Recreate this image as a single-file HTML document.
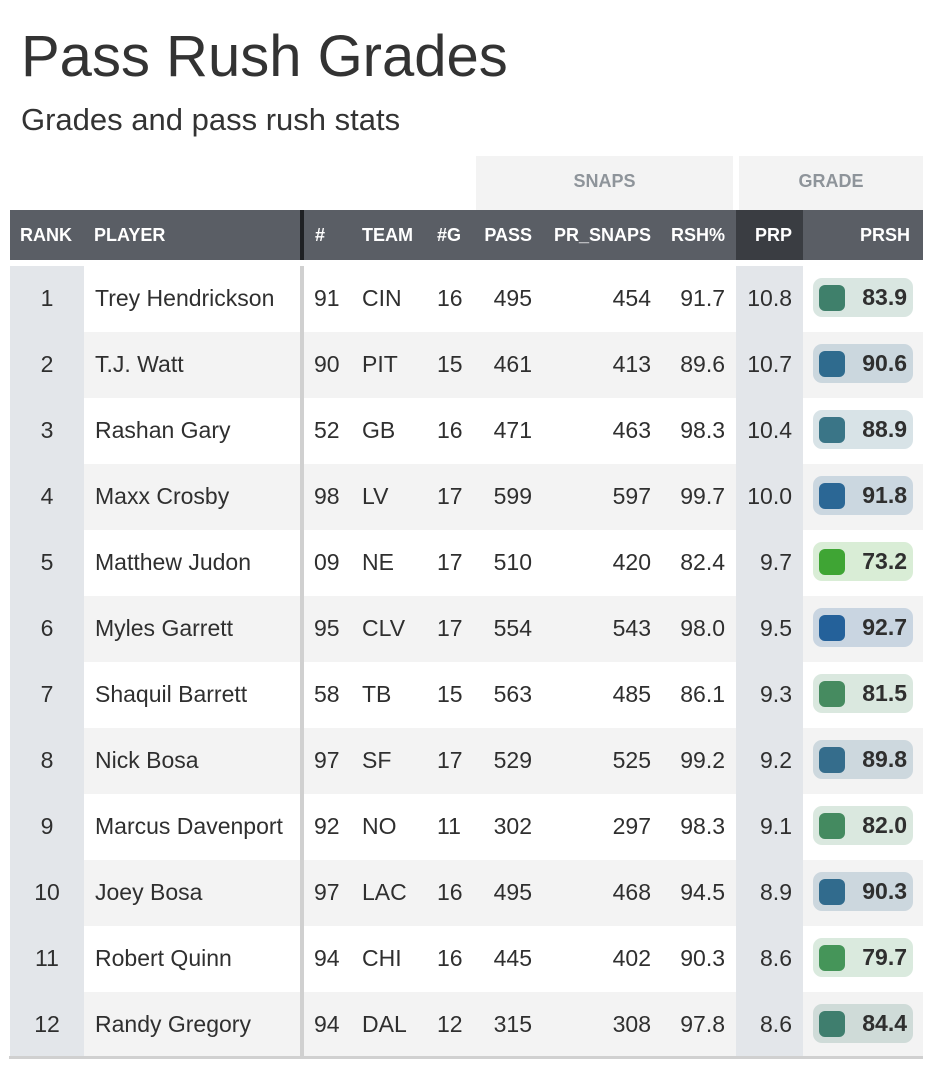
<!DOCTYPE html>
<html><head><meta charset="utf-8">
<style>
*{margin:0;padding:0;box-sizing:border-box}
body{width:932px;height:1068px;background:#fff;position:relative;overflow:hidden;font-family:"Liberation Sans",Arial,sans-serif;color:#2f2f2f}
.t{position:absolute;left:21px;top:28px;font-size:58px;line-height:58px;color:#333;white-space:nowrap}
.st{position:absolute;left:21px;top:104px;font-size:31px;line-height:31px;color:#333;white-space:nowrap}
.gb{position:absolute;top:156px;height:54px;background:#f3f3f3;color:#8e949a;font-weight:bold;font-size:18px;line-height:50px;text-align:center}
.hb{position:absolute;left:10px;top:210px;width:913px;height:50px;background:#5a5e65;color:#fff;font-weight:bold;font-size:18px;line-height:50px}
.hb div{position:absolute;top:0;white-space:nowrap}
.r{position:absolute;left:10px;width:913px;height:66px;background:#fff;font-size:23px;line-height:64px}
.r.g{background:#f3f3f3}
.r div{position:absolute;top:0;height:66px;white-space:nowrap}
.rk{left:0;width:74px;background:#e3e6ea;text-align:center}
.pl{left:85px}
.dv{left:290px;width:4px;background:#d0d0d0}
.c1{left:304px}.c2{left:352px}.c3{left:427px}
.c4{right:391px;text-align:right}
.c5{right:272px;text-align:right}
.c6{right:198px;text-align:right}
.pr{left:726px;width:67px;background:#e3e6ea;text-align:right;padding-right:11px}
.r .p{left:803px;top:12px;width:100px;height:39px;border-radius:9px}
.p i{position:absolute;left:6px;top:7px;width:26px;height:26px;border-radius:6px}
.p b{position:absolute;right:6px;top:0;line-height:39px;font-size:23px;color:#2f2f2f}
.bl{position:absolute;left:9px;top:1056px;width:914px;height:3px;background:#d0d0d0}
</style></head><body>
<div class="t">Pass Rush Grades</div>
<div class="st">Grades and pass rush stats</div>
<div class="gb" style="left:476px;width:257px">SNAPS</div>
<div class="gb" style="left:739px;width:184px">GRADE</div>
<div class="hb">
 <div style="left:10px">RANK</div>
 <div style="left:84px">PLAYER</div>
 <div style="left:290px;width:4px;height:50px;background:#1f2124"></div>
 <div style="left:305px">#</div>
 <div style="left:352px">TEAM</div>
 <div style="left:427px">#G</div>
 <div style="right:391px">PASS</div>
 <div style="right:272px">PR_SNAPS</div>
 <div style="right:198px">RSH%</div>
 <div style="left:726px;width:67px;height:50px;background:#3a3d42;text-align:right;padding-right:11px">PRP</div>
 <div style="right:13px">PRSH</div>
</div>

<div class="r" style="top:266px"><div class="rk">1</div><div class="pl">Trey Hendrickson</div><div class="dv"></div><div class="c1">91</div><div class="c2">CIN</div><div class="c3">16</div><div class="c4">495</div><div class="c5">454</div><div class="c6">91.7</div><div class="pr">10.8</div><div class="p" style="background:rgba(63,128,107,.2)"><i style="background:#3f806b"></i><b>83.9</b></div></div>
<div class="r g" style="top:332px"><div class="rk">2</div><div class="pl">T.J. Watt</div><div class="dv"></div><div class="c1">90</div><div class="c2">PIT</div><div class="c3">15</div><div class="c4">461</div><div class="c5">413</div><div class="c6">89.6</div><div class="pr">10.7</div><div class="p" style="background:rgba(47,107,142,.2)"><i style="background:#2f6b8e"></i><b>90.6</b></div></div>
<div class="r" style="top:398px"><div class="rk">3</div><div class="pl">Rashan Gary</div><div class="dv"></div><div class="c1">52</div><div class="c2">GB</div><div class="c3">16</div><div class="c4">471</div><div class="c5">463</div><div class="c6">98.3</div><div class="pr">10.4</div><div class="p" style="background:rgba(58,117,135,.2)"><i style="background:#3a7587"></i><b>88.9</b></div></div>
<div class="r g" style="top:464px"><div class="rk">4</div><div class="pl">Maxx Crosby</div><div class="dv"></div><div class="c1">98</div><div class="c2">LV</div><div class="c3">17</div><div class="c4">599</div><div class="c5">597</div><div class="c6">99.7</div><div class="pr">10.0</div><div class="p" style="background:rgba(43,103,149,.2)"><i style="background:#2b6795"></i><b>91.8</b></div></div>
<div class="r" style="top:530px"><div class="rk">5</div><div class="pl">Matthew Judon</div><div class="dv"></div><div class="c1">09</div><div class="c2">NE</div><div class="c3">17</div><div class="c4">510</div><div class="c5">420</div><div class="c6">82.4</div><div class="pr">9.7</div><div class="p" style="background:rgba(63,165,52,.2)"><i style="background:#3fa534"></i><b>73.2</b></div></div>
<div class="r g" style="top:596px"><div class="rk">6</div><div class="pl">Myles Garrett</div><div class="dv"></div><div class="c1">95</div><div class="c2">CLV</div><div class="c3">17</div><div class="c4">554</div><div class="c5">543</div><div class="c6">98.0</div><div class="pr">9.5</div><div class="p" style="background:rgba(36,97,154,.2)"><i style="background:#24619a"></i><b>92.7</b></div></div>
<div class="r" style="top:662px"><div class="rk">7</div><div class="pl">Shaquil Barrett</div><div class="dv"></div><div class="c1">58</div><div class="c2">TB</div><div class="c3">15</div><div class="c4">563</div><div class="c5">485</div><div class="c6">86.1</div><div class="pr">9.3</div><div class="p" style="background:rgba(70,139,96,.2)"><i style="background:#468b60"></i><b>81.5</b></div></div>
<div class="r g" style="top:728px"><div class="rk">8</div><div class="pl">Nick Bosa</div><div class="dv"></div><div class="c1">97</div><div class="c2">SF</div><div class="c3">17</div><div class="c4">529</div><div class="c5">525</div><div class="c6">99.2</div><div class="pr">9.2</div><div class="p" style="background:rgba(53,109,140,.2)"><i style="background:#356d8c"></i><b>89.8</b></div></div>
<div class="r" style="top:794px"><div class="rk">9</div><div class="pl">Marcus Davenport</div><div class="dv"></div><div class="c1">92</div><div class="c2">NO</div><div class="c3">11</div><div class="c4">302</div><div class="c5">297</div><div class="c6">98.3</div><div class="pr">9.1</div><div class="p" style="background:rgba(68,138,96,.2)"><i style="background:#448a60"></i><b>82.0</b></div></div>
<div class="r g" style="top:860px"><div class="rk">10</div><div class="pl">Joey Bosa</div><div class="dv"></div><div class="c1">97</div><div class="c2">LAC</div><div class="c3">16</div><div class="c4">495</div><div class="c5">468</div><div class="c6">94.5</div><div class="pr">8.9</div><div class="p" style="background:rgba(49,107,141,.2)"><i style="background:#316b8d"></i><b>90.3</b></div></div>
<div class="r" style="top:926px"><div class="rk">11</div><div class="pl">Robert Quinn</div><div class="dv"></div><div class="c1">94</div><div class="c2">CHI</div><div class="c3">16</div><div class="c4">445</div><div class="c5">402</div><div class="c6">90.3</div><div class="pr">8.6</div><div class="p" style="background:rgba(69,149,89,.2)"><i style="background:#459559"></i><b>79.7</b></div></div>
<div class="r g" style="top:992px"><div class="rk">12</div><div class="pl">Randy Gregory</div><div class="dv"></div><div class="c1">94</div><div class="c2">DAL</div><div class="c3">12</div><div class="c4">315</div><div class="c5">308</div><div class="c6">97.8</div><div class="pr">8.6</div><div class="p" style="background:rgba(63,126,110,.2)"><i style="background:#3f7e6e"></i><b>84.4</b></div></div>
<div class="bl"></div>
</body></html>
